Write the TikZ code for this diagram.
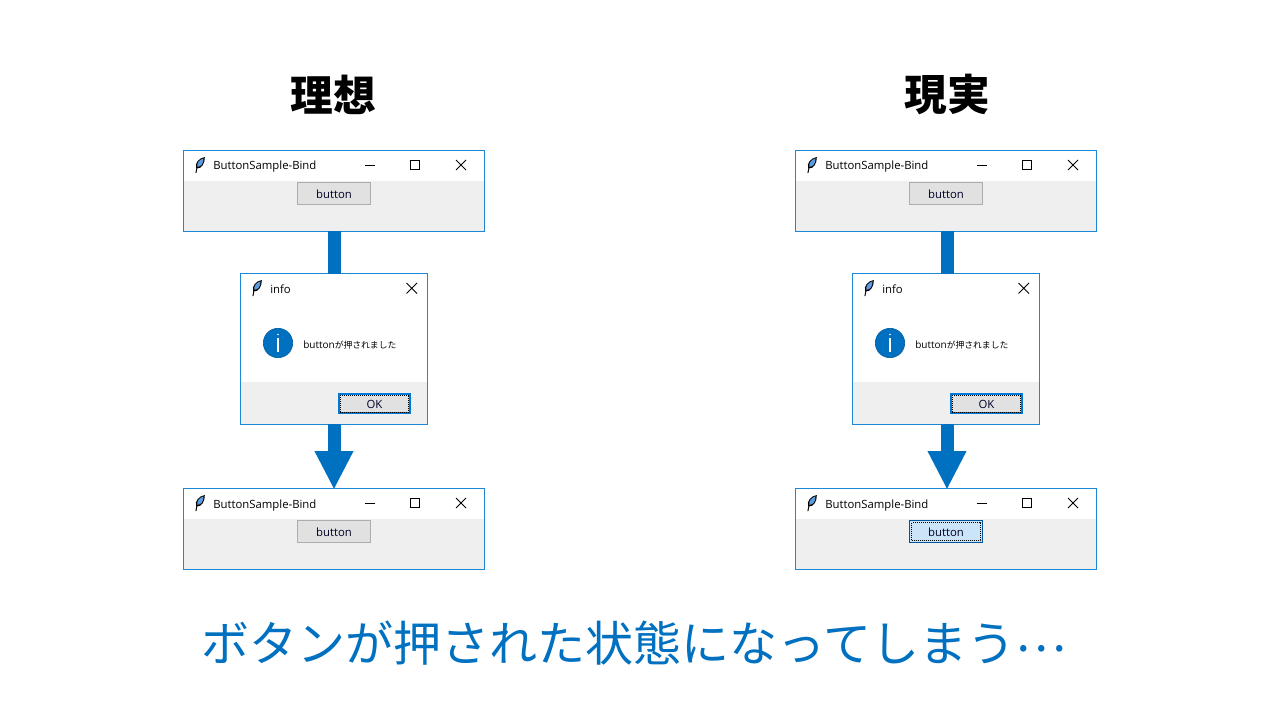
\documentclass[tikz,border=0pt]{standalone}
\usepackage{fontspec}
\setmainfont{Open Sans}
\newfontfamily\jp{Noto Sans CJK JP}
\usetikzlibrary{arrows.meta}
\definecolor{accent}{HTML}{0070C0}
\definecolor{frame}{HTML}{1E88D8}
\definecolor{panel}{HTML}{EFEFEF}
\definecolor{btn}{HTML}{E1E1E1}
\definecolor{btnedge}{HTML}{ADADAD}
\definecolor{pressed}{HTML}{CCE4F7}
\definecolor{pressededge}{HTML}{005499}
\definecolor{focus}{HTML}{0078D7}
\definecolor{quill}{HTML}{5C9BE0}
\tikzset{
  x=0.75pt,y=-0.75pt,
  winframe/.style={draw=frame,line width=1pt,fill=none,inner sep=0pt,outer sep=0pt},
  wintext/.style={font=\fontsize{8.5pt}{11pt}\selectfont,text=black,inner sep=0pt,anchor=base west},
  btntext/.style={font=\fontsize{8.5pt}{11pt}\selectfont,text=black!85!blue,inner sep=0pt},
  glyph/.style={draw=black,line width=0.75pt},
  dotline/.style={draw=black,line width=0.75pt,dash pattern=on 0.75pt off 0.75pt},
  connector/.style={draw=accent,line width=9.75pt},
  arrowlink/.style={connector,-{Triangle[length=29pt,width=27pt]},shorten >=-0.75pt},
  headline/.style={font=\jp\bfseries\fontsize{32pt}{38pt}\selectfont,text=black,inner sep=0pt},
  caption/.style={font=\jp\fontsize{36pt}{42pt}\selectfont,text=accent,inner sep=0pt},
}
\newcommand{\lowered}[1]{\raisebox{0pt}[8pt][0pt]{#1}}
% feather icon centred at (#1,#2)
\newcommand{\feather}[2]{%
  \fill[black] (#1-4.6,#2+8) -- (#1-3.6,#2+3) -- (#1-2.6,#2+3) -- (#1-3.6,#2+8) -- cycle;
  \fill[black] (#1-3.8,#2+3.5) .. controls (#1-5.6,#2-2) and (#1-1,#2-7) .. (#1+4.8,#2-8)
     .. controls (#1+5,#2-2) and (#1+2,#2+4) .. (#1-3.8,#2+3.5) -- cycle;
  \fill[quill] (#1-2.6,#2+1.8) .. controls (#1-3.6,#2-2) and (#1-0.5,#2-5.5) .. (#1+3.5,#2-6.6)
     .. controls (#1+3.6,#2-2) and (#1+1.2,#2+2) .. (#1-2.6,#2+1.8) -- cycle;
}
% main window: #1 name, #2 left x, #3 top y, #4 its button
\newcommand{\mainwin}[4]{%
  \fill[panel] (#2+0.7,#3+30) rectangle (#2+301.3,#3+80.3);
  \node[winframe,minimum width=225.75pt,minimum height=60.5pt,anchor=north west] (#1) at (#2+0.5,#3-0.3) {};
  \feather{#2+17}{#3+14}
  \node[wintext] (#1title) at (#2+30,#3+19) {ButtonSample-Bind};
  \draw[glyph] (#2+182,#3+14.5) -- (#2+192,#3+14.5);
  \draw[glyph] (#2+227.5,#3+9.5) rectangle (#2+236.5,#3+18.5);
  \draw[glyph] (#2+273,#3+9) -- (#2+283,#3+19) (#2+283,#3+9) -- (#2+273,#3+19);
  #4
}
\newcommand{\plainbutton}[3]{%
  \node[draw=btnedge,fill=btn,line width=0.75pt,minimum width=54.75pt,minimum height=16.5pt,inner sep=0pt,btntext] (#1) at (#2,#3) {\lowered{button}};
}
\newcommand{\pressedbutton}[3]{%
  \node[draw=pressededge,fill=pressed,line width=0.75pt,minimum width=54.75pt,minimum height=16.5pt,inner sep=0pt,btntext] (#1) at (#2,#3) {\lowered{button}};
  \draw[dotline] (#2-34.5,#3-9) rectangle (#2+34.5,#3+9);
}
% dialog: #1 name, #2 left x, #3 top y
\newcommand{\dialog}[3]{%
  \fill[panel] (#2+0.7,#3+108) rectangle (#2+187.3,#3+150.3);
  \node[winframe,minimum width=140pt,minimum height=113pt,anchor=north west] (#1) at (#2+0.7,#3-0.3) {};
  \feather{#2+17}{#3+14}
  \node[wintext] (#1title) at (#2+30,#3+19) {info};
  \draw[glyph] (#2+166.5,#3+9) -- (#2+177,#3+19.5) (#2+177,#3+9) -- (#2+166.5,#3+19.5);
  \node[circle,fill=accent,draw=accent!85!black,line width=0.5pt,minimum size=22pt,inner sep=0pt] (#1icon) at (#2+38,#3+69) {};
  \draw[white,line width=0.9pt] (#2+38,#3+64) -- (#2+38,#3+78);
  \fill[white] (#2+38,#3+60.5) circle (0.7pt);
  \node[wintext] (#1msg) at (#2+63,#3+74) {{\fontsize{7.5pt}{10pt}\selectfont button}{\jp\fontsize{6.6pt}{10pt}\selectfont が押されました}};
  \node[draw=focus,fill=btn,line width=1.5pt,minimum width=52.8pt,minimum height=13.8pt,inner sep=0pt,btntext] (#1ok) at (#2+134.5,#3+129.5) {\lowered{OK}};
  \draw[dotline] (#2+100.5,#3+121) rectangle (#2+168.5,#3+138);
}
\begin{document}
\begin{tikzpicture}
\useasboundingbox (0,0) rectangle (1280,720);
\fill[white] (0,0) rectangle (1280,720);
% left column
\node[headline] (ideal) at (333,94.5) {理想};
\mainwin{a1}{183}{151}{\plainbutton{a1b}{334}{193.5}}
\dialog{a2}{240}{274}
\mainwin{a3}{183}{489}{\plainbutton{a3b}{334}{531.5}}
\draw[connector] (a1.south) -- (a1.south |- a2.north);
\draw[arrowlink] (a1.south |- a2.south) -- (a1.south |- a3.north);
% right column
\node[headline] (real) at (947,94.5) {現実};
\mainwin{b1}{795}{151}{\plainbutton{b1b}{946}{193.5}}
\dialog{b2}{852}{274}
\mainwin{b3}{795}{489}{\pressedbutton{b3b}{946}{531.5}}
\draw[connector] ([xshift=0.75pt]b1.south) -- ([xshift=0.75pt]b1.south |- b2.north);
\draw[arrowlink] ([xshift=0.75pt]b1.south |- b2.south) -- ([xshift=0.75pt]b1.south |- b3.north);
\node[caption] (note) at (634,643) {ボタンが押された状態になってしまう\raisebox{7.5pt}{…}};
\end{tikzpicture}
\end{document}
